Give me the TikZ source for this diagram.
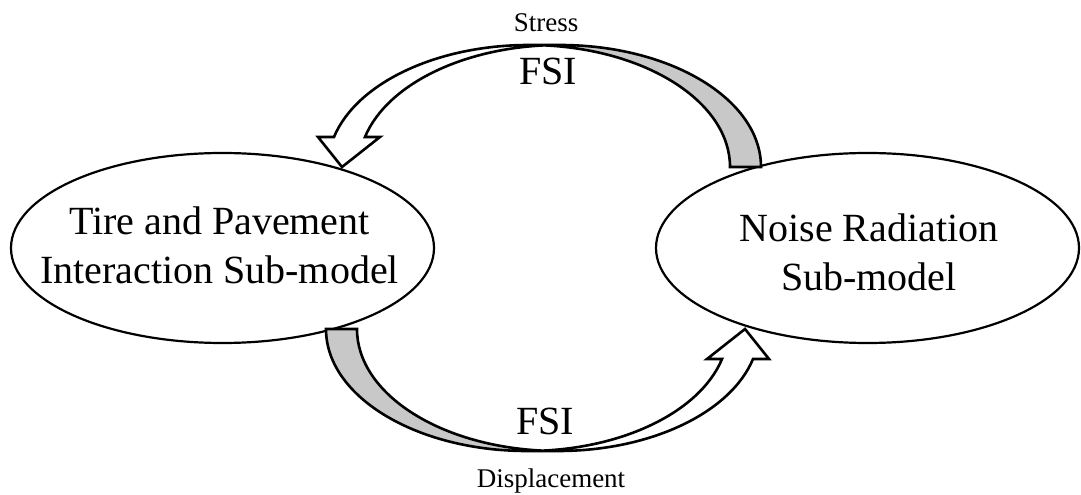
\documentclass[tikz,border=0pt]{standalone}
\usepackage{fontspec}
\setmainfont{Liberation Serif}
\usetikzlibrary{shapes.geometric}
\definecolor{backgray}{RGB}{200,200,200}

\tikzset{
  ellipsebox/.style={draw=black, fill=white, ellipse, line width=2.2pt,
    minimum width=423pt, minimum height=190pt, inner sep=0pt},
  bodytext/.style={font=\fontsize{40}{49}\selectfont, align=center, inner sep=0pt},
  smalltext/.style={font=\fontsize{27}{32}\selectfont, anchor=base, inner sep=0pt},
  bigtext/.style={font=\fontsize{40}{49}\selectfont, anchor=base, inner sep=0pt},
  bandarc/.style={x radius=201.1pt, y radius=122pt},
  arrowline/.style={draw=black, line width=2.6pt, line join=miter},
  backface/.style={fill=backgray},
  frontface/.style={fill=white},
}

% Curved block arrow: twisted band, shaded tail on the right, head on the left
\newcommand\fsiarrow{%
  \fill[backface] (761,328) arc[bandarc, start angle=0, end angle=94.42]
    arc[bandarc, start angle=85.58, end angle=0] -- cycle;
  \fill[frontface] (342,328) -- (380,358) -- (364.97,358)
    arc[bandarc, start angle=165.76, end angle=90] -- (528.9,450)
    arc[bandarc, start angle=90, end angle=165.76] -- (318,358) -- cycle;
  \draw[arrowline] (544.4,449.64) arc[bandarc, start angle=85.58, end angle=0]
    -- (761,328) arc[bandarc, start angle=0, end angle=90] -- (528.9,450)
    arc[bandarc, start angle=90, end angle=165.76] -- (318,358) -- (342,328)
    -- (380,358) -- (364.97,358) arc[bandarc, start angle=165.76, end angle=90];
}

\begin{document}
\begin{tikzpicture}[x=1pt, y=1pt]
  \useasboundingbox (0,0) rectangle (1081,495);

  % the two sub-models
  \node[ellipsebox] (tire) at (222.5,247) {};
  \node[ellipsebox] (noise) at (867.5,247) {};
  \node[bodytext] (tiretext) at (tire.center) [xshift=-3pt, yshift=3pt]
    {Tire and Pavement\\Interaction Sub-model};
  \node[bodytext] (noisetext) at (noise.center) [xshift=1.5pt, yshift=-4pt]
    {Noise Radiation\\Sub-model};

  % coupling arrows: stress (top), displacement (bottom)
  \fsiarrow
  \begin{scope}[rotate around={180:(543.5,247)}]
    \fsiarrow
  \end{scope}

  % labels
  \node[smalltext] (stress) at (546,463.5) {Stress};
  \node[bigtext] (fsitop) at (548,410) {FSI};
  \node[bigtext] (fsibottom) at (545,60) {FSI};
  \node[smalltext] (disp) at (551,8) {Displacement};
\end{tikzpicture}
\end{document}
